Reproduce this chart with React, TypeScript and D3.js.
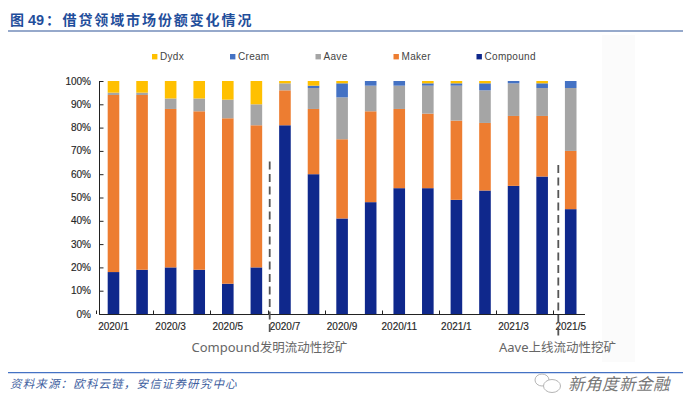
import * as d3 from 'd3'
import React from 'react'

const months = ['2020/1', '2020/2', '2020/3', '2020/4', '2020/5', '2020/6', '2020/7', '2020/8', '2020/9', '2020/10', '2020/11', '2020/12', '2021/1', '2021/2', '2021/3', '2021/4', '2021/5']
const compound = [18, 19, 20, 19, 13, 20, 81, 60, 41, 48, 54, 54, 49, 53, 55, 59, 45]
const maker = [76, 75, 68, 68, 71, 61, 15, 28, 34, 39, 34, 32, 34, 29, 30, 26, 25]
const aave = [1, 1, 4.5, 5.5, 8, 9, 3, 9, 18, 11, 10, 12, 15, 14, 14, 12, 27]
const cream = [0, 0, 0, 0, 0, 0, 0, 1, 6, 2, 2, 1, 1, 3, 1, 2, 3]
const dydx = [5, 5, 7.5, 7.5, 8, 10, 1, 2, 1, 0, 0, 1, 1, 1, 0, 1, 0]

const seriesNames = ['Compound', 'Maker', 'Aave', 'Cream', 'Dydx']
const seriesValues: Record<string, number[]> = { Compound: compound, Maker: maker, Aave: aave, Cream: cream, Dydx: dydx }
const colors: Record<string, string> = { Compound: '#0f288c', Maker: '#ed7d31', Aave: '#a5a5a5', Cream: '#4472c4', Dydx: '#ffc000' }
const legendX: Record<string, number> = { Dydx: 152, Cream: 230, Aave: 315.5, Maker: 393.5, Compound: 476.5 }
const tickMonths = months.filter((_, i) => i % 2 === 0)
const cjk = '"Noto Sans CJK SC", sans-serif'
const latin = '"Liberation Sans", Arial, sans-serif'

const x = d3.scaleBand<string>().domain(months).range([99.2, 585]).paddingInner(0.594).paddingOuter(0.297)
const y = d3.scaleLinear().domain([0, 100]).range([314, 81])

const rows = months.map((m, i) => {
  const row: Record<string, number | string> = { month: m }
  seriesNames.forEach(s => { row[s] = seriesValues[s][i] })
  return row
})
const stacked = d3.stack<any>().keys(seriesNames)(rows)

const Note = ({ px, py, name, text }: { px: number, py: number, name: string, text: string }) => (
  <text x={px} y={py} fill='#666' fontSize={12.5}>
    <tspan fontFamily='"Noto Sans", sans-serif' fontSize={13}>{name}</tspan>
    <tspan fontFamily={cjk}>{text}</tspan>
  </text>
)

export default function App() {
  return (
    <svg width={692} height={414} style={{ position: 'absolute', left: 0, top: 0, background: '#fff' }}>
      <rect x={602} y={35} width={33} height={327} fill='#fbfbfb' />

      <text x={10} y={25} fill='#1f4e9b' fontFamily={cjk} fontWeight={700} fontSize={14} xmlSpace='preserve'>
        <tspan>图</tspan>
        <tspan x={28} fontFamily={latin} fontSize={14.5}>49</tspan>
        <tspan x={46}>：</tspan>
        <tspan x={62.5} letterSpacing={1.9}>借贷领域市场份额变化情况</tspan>
      </text>
      <line x1={8} x2={683} y1={31} y2={31} stroke='#2f5597' strokeWidth={1.2} />

      {seriesNames.map(s => (
        <g key={s} fontFamily={latin} fontSize={10} fill='#444'>
          <rect x={legendX[s]} y={54} width={5.4} height={5.4} fill={colors[s]} />
          <text x={legendX[s] + 8} y={60.3} letterSpacing={0.3}>{s}</text>
        </g>
      ))}

      {stacked.map(layer => (
        <g key={layer.key} fill={colors[layer.key]}>
          {layer.map((d, i) => (
            <rect key={months[i]} x={x(months[i])} width={x.bandwidth()} y={y(d[1])} height={y(d[0]) - y(d[1])} />
          ))}
        </g>
      ))}

      <g stroke='#222' strokeWidth={1} fill='none'>
        <line x1={99.5} x2={99.5} y1={y(100)} y2={y(0)} />
        <line x1={99.2} x2={585} y1={314.5} y2={314.5} />
        {y.ticks(10).map(t => <line key={t} x1={99.5} x2={103.5} y1={y(t) + 0.5} y2={y(t) + 0.5} />)}
        {tickMonths.map(m => {
          const tx = Math.round((x(m) as number) - x.step() * 0.203 - x.bandwidth() * 0.5) + 0.5
          return <line key={m} x1={tx} x2={tx} y1={314} y2={310.5} />
        })}
      </g>

      <g fontFamily={latin} fontSize={10} fill='#262626' stroke='#262626' strokeWidth={0.15}>
        {y.ticks(10).map(t => (
          <text key={t} x={91} y={y(t) + 3.5} textAnchor='end'>{t}%</text>
        ))}
        {tickMonths.map(m => (
          <text key={m} x={(x(m) as number) + x.bandwidth() / 2} y={330} textAnchor='middle'>{m}</text>
        ))}
      </g>

      <g stroke='#555' strokeWidth={1.8} strokeDasharray='8 4.5'>
        <line x1={269.7} x2={269.7} y1={161.5} y2={336} />
        <line x1={558.3} x2={558.3} y1={165} y2={339} />
      </g>
      <Note px={191.5} py={352} name='Compound' text='发明流动性挖矿' />
      <Note px={499} py={352} name='Aave' text='上线流动性挖矿' />

      <line x1={8} x2={683} y1={372.7} y2={372.7} stroke='#4472c4' strokeWidth={1.2} />
      <text x={10} y={388} fill='#3f5f9f' fontFamily={cjk} fontSize={11.5} fontStyle='italic' letterSpacing={1.15}>
        资料来源：欧科云链，安信证券研究中心
      </text>

      <g fill='#fff' stroke='#b5b5b5' strokeWidth={1}>
        <ellipse cx={542} cy={380} rx={7} ry={6} />
        <ellipse cx={552} cy={386} rx={8.5} ry={6.5} />
      </g>
      <text x={568} y={390} fill='#777' fontFamily={cjk} fontSize={16.5} fontStyle='italic' letterSpacing={0.5}>
        新角度新金融
      </text>
    </svg>
  )
}
